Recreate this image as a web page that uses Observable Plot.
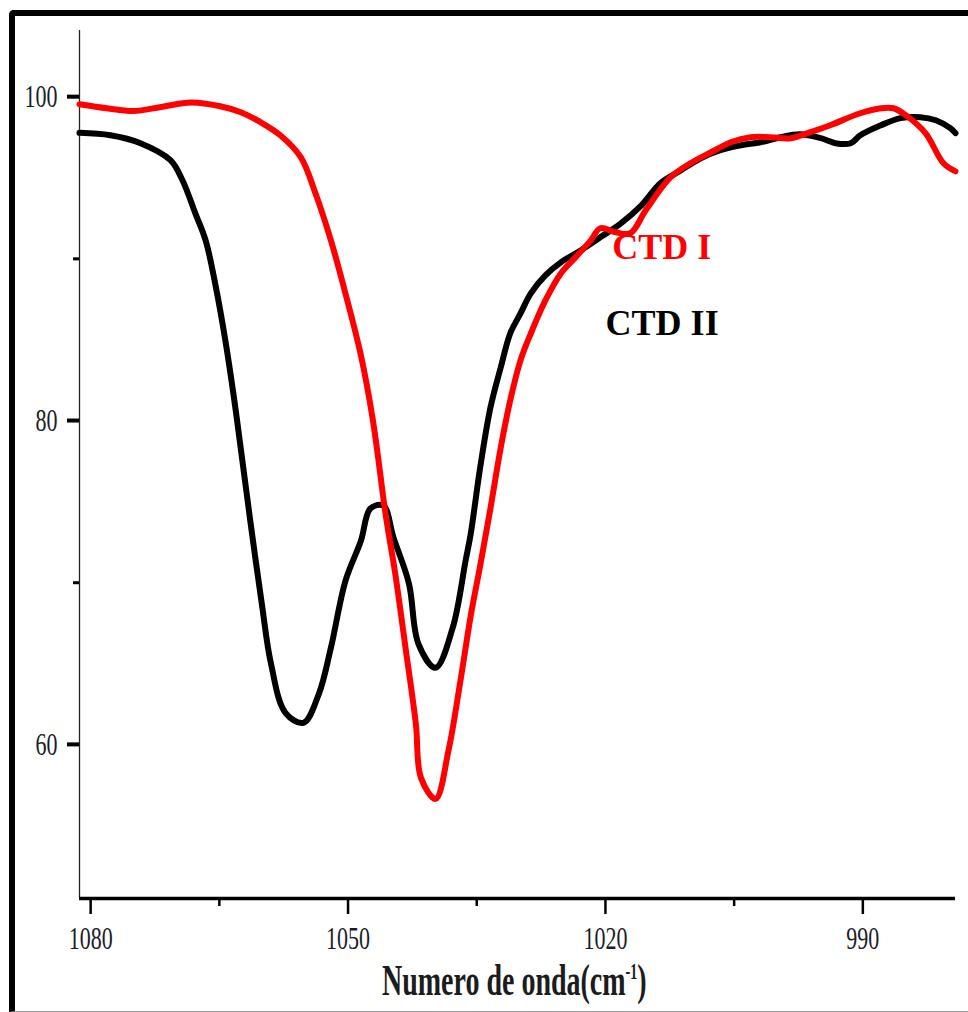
<!DOCTYPE html>
<html>
<head>
<meta charset="utf-8">
<script src="https://cdn.jsdelivr.net/npm/d3@7"></script>
<script src="https://cdn.jsdelivr.net/npm/@observablehq/plot@0.6"></script>
<style>
  html, body { margin: 0; padding: 0; background: #fff; }
  #wrap { position: relative; width: 968px; height: 1012px; overflow: hidden; }
  #frame { position: absolute; left: 9px; top: 10px; width: 953px; height: 995px;
           border-top: 6px solid #000; border-left: 6px solid #000; border-bottom: 1px solid #999;
           border-top-left-radius: 5px; }
  #chart { position: absolute; left: 0; top: 0; z-index: 1; }
</style>
</head>
<body>
<div id="wrap"><div id="frame"></div><div id="chart"></div></div>
<script>
// Wavenumber (cm-1) and transmittance (%)
const ctd1_wn = [1081.3,1078.1,1075.0,1071.8,1068.3,1064.9,1062.5,1060.2,1057.9,1055.5,1053.8,1052.0,1050.3,1048.5,1047.1,1045.6,1044.5,1043.3,1042.1,1041.5,1039.8,1038.3,1036.9,1035.7,1034.6,1033.4,1032.2,1031.1,1029.9,1028.7,1027.0,1025.2,1023.5,1021.7,1020.6,1018.8,1017.1,1015.3,1012.4,1010.1,1007.7,1005.4,1003.1,1000.8,998.4,996.1,993.8,990.3,987.9,986.4,985.0,982.7,980.6,979.2];
const ctd1_T  = [99.55,99.3,99.13,99.38,99.65,99.42,99.05,98.44,97.63,96.27,94.05,91.14,87.86,84.04,80.02,74.15,70.56,65.98,61.29,57.95,56.65,59.62,63.95,67.96,71.05,74.6,78.35,81.25,83.73,85.39,87.43,89.10,90.09,91.14,91.89,91.64,91.58,93.0,95.04,95.90,96.58,97.20,97.51,97.51,97.45,97.82,98.25,98.99,99.30,99.30,98.87,97.76,95.90,95.4];

const ctd2_wn = [1081.3,1077.7,1074.2,1070.7,1069.3,1067.8,1066.6,1065.4,1064.3,1063.3,1062.5,1061.4,1060.0,1059.0,1057.3,1055.2,1053.4,1052.0,1050.3,1048.5,1047.4,1045.9,1044.7,1042.9,1041.8,1039.8,1037.8,1036.3,1035.7,1034.6,1033.4,1032.2,1031.1,1029.9,1028.7,1027.0,1025.2,1022.9,1020.6,1018.2,1015.9,1013.6,1011.2,1008.9,1006.6,1004.2,1001.9,999.6,997.3,994.9,993.2,991.4,990.3,987.9,985.6,983.3,981.5,979.8,979.2];
const ctd2_T  = [97.78,97.63,97.14,96.09,94.85,92.81,91.14,88.24,84.96,81.44,78.27,73.84,68.50,65.05,61.97,61.35,63.14,65.98,70.12,72.59,74.58,74.77,72.78,69.94,66.23,64.75,67.22,71.36,73.03,77.11,80.82,83.30,85.39,86.63,87.87,88.98,89.78,90.52,91.33,92.19,93.25,94.67,95.47,96.21,96.71,97.01,97.20,97.51,97.69,97.45,97.14,97.14,97.63,98.25,98.69,98.75,98.56,98.07,97.76];

const seriesNames = ["CTD I", "CTD II"];
const xTicks = [1080, 1050, 1020, 990];
const xMinorTicks = [1065, 1035, 1005];
const yTicks = [60, 80, 100];
const yMinorTicks = [70, 90];
const xTitle = "Numero de onda(cm";
const xTitleSup = "-1";

const xDomain = [1081.3, 979.2];
const yDomain = [50.5, 104.1];

const ctd1 = ctd1_wn.map((w, i) => ({wn: w, t: ctd1_T[i]}));
const ctd2 = ctd2_wn.map((w, i) => ({wn: w, t: ctd2_T[i]}));

const chart = Plot.plot({
  width: 968,
  height: 1012,
  marginLeft: 79,
  marginRight: 13,
  marginTop: 30,
  marginBottom: 114,
  x: {domain: xDomain},
  y: {domain: yDomain},
  style: {fontFamily: "'Liberation Serif', serif", fontSize: "22px", background: "transparent", color: "#000", overflow: "visible"},
  marks: [
    // tick labels
    Plot.axisX({ticks: xTicks, tickSize: 0, tickPadding: 28, fontSize: 22, tickFormat: d => String(d), label: null, fill: "#1c1c28"}),
    Plot.axisY({ticks: yTicks, tickSize: 0, tickPadding: 22, fontSize: 22, tickFormat: d => String(d), label: null, fill: "#1c1c28"}),
    // axis lines
    Plot.ruleX([xDomain[0]], {stroke: "#222", strokeWidth: 1.3}),
    Plot.ruleY([yDomain[0]], {stroke: "#000", strokeWidth: 3.5}),
    // spectra
    Plot.line(ctd2, {x: "wn", y: "t", stroke: "#000000", strokeWidth: 6, strokeLinejoin: "round", curve: "catmull-rom"}),
    Plot.line(ctd1, {x: "wn", y: "t", stroke: "#ff0000", strokeWidth: 6, strokeLinejoin: "round", curve: "catmull-rom"}),
    // series labels
    Plot.text([seriesNames[0]], {x: 1019.2, y: 90.68, text: d => d, fill: "#ff0000", fontSize: 36, fontWeight: "bold", textAnchor: "start", lineAnchor: "middle"}),
    Plot.text([seriesNames[1]], {x: 1019.98, y: 85.98, text: d => d, fill: "#000000", fontSize: 36, fontWeight: "bold", textAnchor: "start", lineAnchor: "middle"}),
    // tick marks, drawn last
    Plot.axisX({ticks: xTicks, tickSize: 16, stroke: "#000", strokeWidth: 2.5, tickFormat: () => "", label: null}),
    Plot.axisX({ticks: xMinorTicks, tickSize: 8, stroke: "#000", strokeWidth: 2.5, tickFormat: () => "", label: null}),
    Plot.axisY({ticks: yMinorTicks, tickSize: 6, stroke: "#000", strokeWidth: 3, tickFormat: () => "", label: null}),
    Plot.axisY({ticks: yTicks, tickSize: 12, stroke: "#000", strokeWidth: 3.5, tickFormat: () => "", label: null})
  ]
});

// vertically stretched tick labels, as in the reference
chart.querySelectorAll('g[aria-label="x-axis tick label"] text, g[aria-label="y-axis tick label"] text').forEach(t => {
  t.setAttribute("transform", (t.getAttribute("transform") || "") + " scale(1,1.45)");
});

const svg = d3.select(chart);

// major y ticks placed with Plot's own scales
const xs = chart.scale("x"), ys = chart.scale("y");
const x0 = xs.apply(xDomain[0]);
svg.append("g").attr("stroke", "#000").attr("stroke-width", 3.5)
  .selectAll("line").data(yTicks).join("line")
  .attr("x1", x0 - 12).attr("x2", x0)
  .attr("y1", d => ys.apply(d)).attr("y2", d => ys.apply(d));

// axis title with superscript
const title = svg.append("text")
  .attr("transform", "translate(382,995) scale(1,1.6)")
  .attr("text-anchor", "start")
  .attr("font-family", "'Liberation Serif', serif")
  .attr("font-weight", "bold")
  .attr("font-size", 28)
  .attr("fill", "#1c1c1c");
title.append("tspan").text(xTitle);
title.append("tspan").attr("dy", -10).attr("font-size", 14).text(xTitleSup);
title.append("tspan").attr("dy", 10).text(")");

document.getElementById("chart").appendChild(chart);
</script>
</body>
</html>
